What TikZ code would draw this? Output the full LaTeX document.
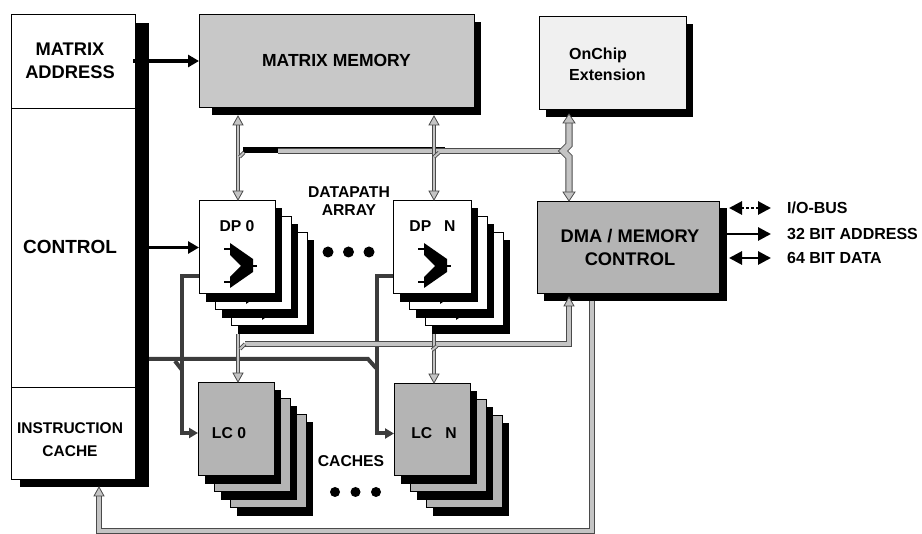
\documentclass[tikz,border=0pt]{standalone}
\usepackage{fontspec}
\setmainfont{Liberation Sans}
\usetikzlibrary{arrows.meta,calc}
\definecolor{memgray}{HTML}{C8C8C8}
\definecolor{unitgray}{HTML}{B4B4B4}
\definecolor{extgray}{HTML}{F0F0F0}
\definecolor{busfill}{HTML}{C4C4C4}
\definecolor{busedge}{HTML}{4A4A4A}
\definecolor{ctlbus}{HTML}{3C3C3C}
% a card of a stack: drop shadow, then the framed card
\newcommand\backcard[5]{%
  \fill[black] ({#1+7},{#2+8}) rectangle ({#3+7},{#4+9});
  \filldraw[fill=#5,draw=black,line width=0.7pt] (#1,#2) rectangle (#3,#4);}
% ALU symbol, placed relative to the top-left corner of a datapath card
\newcommand\alusym[2]{%
  \fill[black] ({#1+31},{#2+43}) -- ({#1+54},{#2+59}) -- ({#1+54},{#2+72}) --
    ({#1+31},{#2+88}) -- ({#1+31},{#2+77}) -- ({#1+42},{#2+66}) -- ({#1+31},{#2+55}) -- cycle;
  \draw[line width=1.2pt] ({#1+25},{#2+49}) -- ({#1+31},{#2+49})
    ({#1+25},{#2+82}) -- ({#1+31},{#2+82}) ({#1+54},{#2+66}) -- ({#1+58},{#2+66});}
% hollow bus arrow tips: #1 tip point, #2 half width, #3 length
\newcommand\tipdn[3]{\filldraw[fill=busfill,draw=busedge,line width=0.8pt,line join=miter]
  (#1) -- ++(-#2,-#3) -- ++({2*#2},0) -- cycle;}
\newcommand\tipup[3]{\filldraw[fill=busfill,draw=busedge,line width=0.8pt,line join=miter]
  (#1) -- ++(-#2,#3) -- ++({2*#2},0) -- cycle;}
\begin{document}
\begin{tikzpicture}[x=1pt,y=-1pt,
  unit/.style={draw=black, line width=0.7pt, inner sep=0pt, outer sep=0pt, anchor=north west},
  lbig/.style={font=\fontsize{18.3}{23}\selectfont\bfseries, align=center, inner sep=0pt},
  lsmall/.style={font=\fontsize{15.7}{18.5}\selectfont\bfseries, align=center, inner sep=0pt},
  lside/.style={font=\fontsize{16}{19}\selectfont\bfseries, anchor=west, inner sep=0pt,
    text height=11.5pt, text depth=0pt},
  sigarrow/.style={line width=3.5pt, -{Triangle[length=11pt,width=12pt]}},
  iohead/.style={line width=2.8pt},
  dbus/.style={line width=4pt, draw=ctlbus, line join=miter},
  gbuswide/.style={draw=busfill, line width=5.4pt, line join=miter,
    preaction={draw=busedge, line width=7.4pt}},
  gbus/.style={draw=busfill, line width=4.4pt, line join=miter,
    preaction={draw=busedge, line width=6.4pt}},
  gbusmid/.style={draw=busfill, line width=3.2pt, line join=miter,
    preaction={draw=busedge, line width=5.2pt}},
  gbusthin/.style={draw=busfill, line width=2pt, line join=miter,
    preaction={draw=busedge, line width=3.8pt}},
]
\useasboundingbox (0,0) rectangle (922,534);

% ---------- drop shadows of the single units ----------
\fill (135,23) rectangle (149,487);
\fill (20,479) rectangle (149,487);
\fill (212,22) rectangle (481,115);
\fill (546,24) rectangle (693,117);
\fill (544,208) rectangle (727,301);

% ---------- control column ----------
\node[unit, fill=white, minimum width=124pt, minimum height=94pt] (addr) at (11,14) {};
\node[unit, fill=white, minimum width=124pt, minimum height=279pt] (ctrl) at (11,108) {};
\node[unit, fill=white, minimum width=124pt, minimum height=92pt] (icache) at (11,387) {};
\node[lbig] (addrtxt) at (70,61) {MATRIX\\ADDRESS};
\node[lbig, font=\fontsize{19}{23}\selectfont\bfseries] (ctrltxt) at (70,247) {CONTROL};
\node[lsmall, font=\fontsize{15.5}{23}\selectfont\bfseries] (ictxt) at (70,440) {INSTRUCTION\\CACHE};

% ---------- memories and DMA ----------
\node[unit, fill=memgray, minimum width=275pt, minimum height=93pt] (mm) at (199,14) {};
\node[lbig, font=\fontsize{17.5}{21}\selectfont\bfseries] (mmtxt) at (mm.center) {MATRIX MEMORY};
\node[unit, fill=extgray, minimum width=147pt, minimum height=93pt] (ext) at (539,16) {};
\node[font=\fontsize{16}{21}\selectfont\bfseries, align=left, inner sep=0pt, anchor=west]
  (exttxt) at (569,64) {OnChip\\Extension};
\node[unit, fill=unitgray, minimum width=182pt, minimum height=92pt] (dma) at (537,201) {};
\node[lbig] (dmatxt) at (630,247) {DMA / MEMORY\\CONTROL};

% ---------- datapath array ----------
\backcard{231}{232}{307}{325}{white}\alusym{231}{232}
\backcard{215}{216}{291}{309}{white}\alusym{215}{216}
\fill (206,208) rectangle (282,302);
\node[unit, fill=white, minimum width=76pt, minimum height=93pt] (dp0) at (199,200) {};
\alusym{199}{200}
\node[lsmall] (dp0txt) at (237,226) {DP 0};

\backcard{425}{232}{503}{325}{white}\alusym{425}{232}
\backcard{409}{216}{487}{309}{white}\alusym{409}{216}
\fill (400,208) rectangle (478,302);
\node[unit, fill=white, minimum width=78pt, minimum height=93pt] (dpn) at (393,200) {};
\alusym{393}{200}
\node[lsmall] (dpntxt) at (432.5,226) {DP\hspace{13pt}N};

\node[lsmall, font=\fontsize{15.7}{18}\selectfont\bfseries] (dptxt) at (349,201) {DATAPATH\\ARRAY};
\foreach \x in {328,348.5,369} \fill (\x,252) circle (5.5);

% ---------- local caches ----------
\backcard{230}{414}{306}{507}{unitgray}
\backcard{214}{398}{290}{491}{unitgray}
\fill (205,390) rectangle (281,484);
\node[unit, fill=unitgray, minimum width=76pt, minimum height=93pt] (lc0) at (198,382) {};
\node[lsmall] (lc0txt) at (229,433) {LC 0};

\backcard{426}{415}{502}{507}{unitgray}
\backcard{410}{399}{486}{491}{unitgray}
\fill (401,391) rectangle (477,484);
\node[unit, fill=unitgray, minimum width=76pt, minimum height=92pt] (lcn) at (394,383) {};
\node[lsmall] (lcntxt) at (434,433) {LC\hspace{13pt}N};

\node[lsmall] (cachetxt) at (351,461) {CACHES};
\foreach \x in {335,355.5,376} \fill (\x,492) circle (5);

% ---------- control signals ----------
\draw[sigarrow] (133,61) -- (addr.east -| mm.west);
\draw[sigarrow] ($(ctrl.east)+(13,0)$) -- (dp0.west |- ctrl.east);

% dark control buses to the caches
\coordinate (cb) at (149,359);
\draw[dbus] (cb) -- (368,359) -- (376,368);
\draw[dbus] (175,361) -- (182,370);
\draw[dbus, -{Triangle[length=9pt,width=10pt]}] ($(dp0.west)+(0,30)$) -- ++(-17,0) |- ($(lc0.west)+(0,4.5)$);
\draw[dbus, -{Triangle[length=9pt,width=10pt]}] ($(dpn.west)+(0,30)$) -- ++(-16,0) |- ($(lcn.west)+(0,4.5)$);

% ---------- upper data bus ----------
\coordinate (mmsb) at (0,116);
\coordinate (v3) at (569,114);
\fill (243,147) rectangle (278,153);
\draw[line width=1pt] (278,147.5) -- (445,147.5);
\draw[gbus] (278,151) -- (563,151);
\draw[gbuswide] ($(v3)+(0,9)$) -- (569,145) -- (563,151) -- (569,157) -- ($(v3 |- dma.north)+(0,-9)$);
\tipup{v3}{6}{9}
\tipdn{v3 |- dma.north}{6}{9}

\draw[gbusthin] ($(dp0.north |- mmsb)+(1,8)$) -- ($(dp0.north)+(1,-8)$);
\tipup{$(dp0.north |- mmsb)+(1,0)$}{5}{9}
\tipdn{$(dp0.north)+(1,0)$}{5}{9}
\draw[gbusthin] (239.5,157) -- (244,152.5);

\draw[gbusthin] ($(dpn.north |- mmsb)+(2,8)$) -- ($(dpn.north)+(2,-8)$);
\tipup{$(dpn.north |- mmsb)+(2,0)$}{5}{9}
\tipdn{$(dpn.north)+(2,0)$}{5}{9}
\draw[gbusthin] (434,157) -- (439,152.5);

% ---------- lower data bus ----------
\coordinate (lb) at (569,344);
\draw[gbus] (245,344) -- (lb) -- ($(lb |- dma.south)+(0,12)$);
\tipup{$(lb |- dma.south)+(0,4)$}{5}{9}

\draw[gbusthin] (238,334) -- ($(lc0.north)+(2,-8)$);
\tipdn{$(lc0.north)+(2,0)$}{5}{9}
\draw[gbusthin] (240,349) -- (245,344);

\draw[gbusthin] (434,334) -- ($(lcn.north)+(2,-8)$);
\tipdn{$(lcn.north)+(2,0)$}{5}{9}
\draw[gbusthin] (432,350) -- (437,346);

% ---------- feedback bus to the instruction cache ----------
\coordinate (fb) at (592,301);
\draw[gbusmid] (fb) -- (592,531) -- (99,531) -- (99,495);
\tipup{99,487}{5}{9}

% ---------- external interface ----------
\node[lside] (iolbl) at (787,208) {I/O-BUS};
\node[lside] (adlbl) at (787,234) {32 BIT ADDRESS};
\node[lside] (dtlbl) at (787,258) {64 BIT DATA};
\draw[iohead, dash pattern=on 2.5pt off 2.5pt,
  {Triangle[length=13pt,width=13pt]}-{Triangle[length=13pt,width=13pt]}]
  (729,208) -- ($(iolbl.west)+(-16,0)$);
\draw[iohead, -{Triangle[length=13pt,width=13pt]}] (727,234) -- ($(adlbl.west)+(-16,0)$);
\draw[iohead, {Triangle[length=13pt,width=13pt]}-{Triangle[length=13pt,width=13pt]}]
  (729,258) -- ($(dtlbl.west)+(-16,0)$);
\end{tikzpicture}
\end{document}
